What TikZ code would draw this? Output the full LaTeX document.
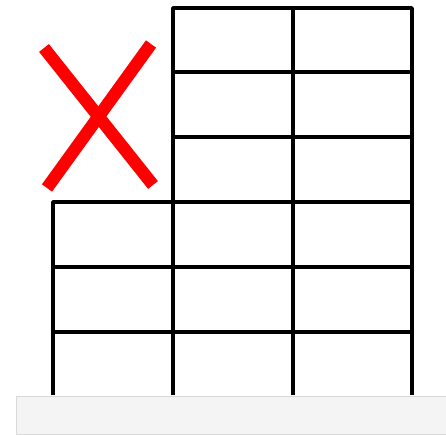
\documentclass[tikz,border=0pt]{standalone}
\begin{document}
\begin{tikzpicture}[x=1pt,y=-1pt,
  grid/.style={line width=3.5pt,black,line join=round},
  cross/.style={line width=12.5pt,red},
  platform/.style={fill=gray!9,draw=gray!30,line width=1.2pt}]
\useasboundingbox (0,0) rectangle (446,435);
% platform
\node[platform,minimum width=432pt,minimum height=38pt,inner sep=0pt,anchor=north west] (base) at (16,395.5) {};
% coordinates
\coordinate (tl) at (173,8);
\coordinate (tr) at (412,8);
\coordinate (ml) at (53,202);
\coordinate (bl) at (53,395);
\coordinate (br) at (412,395);
% outline
\draw[grid] (bl) -- (ml) -- (173,202) -- (tl) -- (tr) -- (br);
\draw[grid] (173,202) -- (173,395);
\draw[grid] (293,8) -- (293,395);
% horizontal lines
\foreach \y in {72,137} \draw[grid] (173,\y) -- (412,\y);
\foreach \y in {202,267,332} \draw[grid] (53,\y) -- (412,\y);
% red cross
\coordinate (c1) at (44,48);
\coordinate (c2) at (153,185);
\coordinate (c3) at (151,44);
\coordinate (c4) at (47,188);
\draw[cross] (c1) -- (c2);
\draw[cross] (c3) -- (c4);
\end{tikzpicture}
\end{document}
